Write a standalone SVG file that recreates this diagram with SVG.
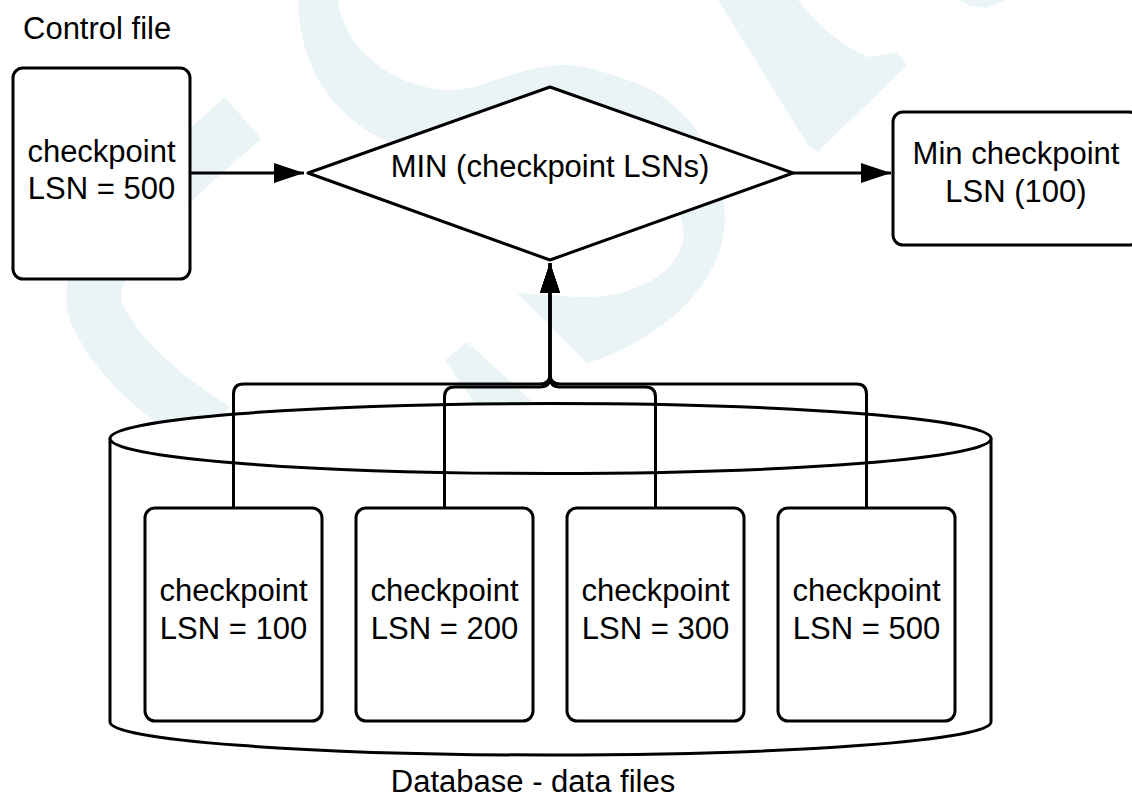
<svg xmlns="http://www.w3.org/2000/svg" width="1132" height="800" viewBox="0 0 1132 800">
  <style>
    .shape { fill: #ffffff; stroke: #000000; stroke-width: 3; stroke-linejoin: round; }
    .conn { fill: none; stroke: #000000; stroke-width: 3; stroke-linejoin: round; }
    .lbl { font-family: "Liberation Sans", Arial, sans-serif; font-size: 31px; fill: #000000; }
    .mid { text-anchor: middle; }
    .wm { fill: #eaf4f7; stroke: none; }
    .wms { fill: none; stroke: #eaf4f7; }
  </style>
  <defs>
    <marker id="arrow" markerUnits="userSpaceOnUse" markerWidth="30" markerHeight="20" refX="30" refY="10" orient="auto">
      <path d="M0,0 L30,10 L0,20 Z" fill="#000000"/>
    </marker>
  </defs>
  <rect x="0" y="0" width="1132" height="800" fill="#ffffff"/>

  <g id="watermark">
    <path class="wm" d="M298,0 C300,80 345,130 410,150 L560,150 C640,160 690,200 683,240 C676,280 620,300 577,297 L517,293 L587,363 C650,345 725,290 725,217 C725,150 680,95 627,80 C600,70 580,64 560,65 C510,68 480,92 447,90 C400,88 345,55 338,0 Z"/>
    <path class="wm" d="M718,0 L808,145 L818,152 L907,65 L897,52 L870,57 C850,50 820,30 798,0 Z"/>
    <path class="wm" d="M960,0 L1005,0 L985,8 L970,6 Z"/>
    <path class="wms" stroke-width="55" d="M243,118 C150,200 70,270 100,320 C120,360 160,395 215,430"/>
    <path class="wm" d="M445,360 L467,342 L575,440 L500,440 Z"/>
  </g>

  <g id="control-file-label">
    <text class="lbl" x="23" y="39">Control file</text>
  </g>

  <g id="database">
    <path class="shape" d="M110,438.5 V722 A440.5,33 0 0 0 991,722 V438.5 Z"/>
    <ellipse class="shape" cx="550.5" cy="438.5" rx="440.5" ry="35"/>
    <text class="lbl mid" x="533" y="792">Database - data files</text>
  </g>

  <g id="connectors">
    <path class="conn" d="M190,173 H304" marker-end="url(#arrow)"/>
    <path class="conn" d="M793,173 H891" marker-end="url(#arrow)"/>
    <path class="conn" d="M233.5,508 V394 Q233.5,384 243.5,384 H540 Q550,384 550,374 V263" marker-end="url(#arrow)"/>
    <path class="conn" d="M444.5,508 V397 Q444.5,387 454.5,387 H540 Q550,387 550,377 V263" marker-end="url(#arrow)"/>
    <path class="conn" d="M655.5,508 V397 Q655.5,387 645.5,387 H560 Q550,387 550,377 V263" marker-end="url(#arrow)"/>
    <path class="conn" d="M866.5,508 V394 Q866.5,384 856.5,384 H560 Q550,384 550,374 V263" marker-end="url(#arrow)"/>
  </g>

  <g id="control-checkpoint">
    <rect class="shape" x="13" y="68" width="177" height="211" rx="10"/>
    <text class="lbl mid" x="101.5" y="162">checkpoint</text>
    <text class="lbl mid" x="101.5" y="199">LSN = 500</text>
  </g>

  <g id="min-decision">
    <path class="shape" d="M308,173 L550,87 L793,173 L550,260 Z"/>
    <text class="lbl mid" x="550" y="177">MIN (checkpoint LSNs)</text>
  </g>

  <g id="min-checkpoint">
    <rect class="shape" x="893" y="112" width="246" height="133" rx="10"/>
    <text class="lbl mid" x="1016" y="164">Min checkpoint</text>
    <text class="lbl mid" x="1016" y="202">LSN (100)</text>
  </g>

  <g id="datafile-1">
    <rect class="shape" x="145" y="508" width="177" height="213" rx="10"/>
    <text class="lbl mid" x="233.5" y="601">checkpoint</text>
    <text class="lbl mid" x="233.5" y="639">LSN = 100</text>
  </g>
  <g id="datafile-2">
    <rect class="shape" x="356" y="508" width="177" height="213" rx="10"/>
    <text class="lbl mid" x="444.5" y="601">checkpoint</text>
    <text class="lbl mid" x="444.5" y="639">LSN = 200</text>
  </g>
  <g id="datafile-3">
    <rect class="shape" x="567" y="508" width="177" height="213" rx="10"/>
    <text class="lbl mid" x="655.5" y="601">checkpoint</text>
    <text class="lbl mid" x="655.5" y="639">LSN = 300</text>
  </g>
  <g id="datafile-4">
    <rect class="shape" x="778" y="508" width="177" height="213" rx="10"/>
    <text class="lbl mid" x="866.5" y="601">checkpoint</text>
    <text class="lbl mid" x="866.5" y="639">LSN = 500</text>
  </g>
</svg>
